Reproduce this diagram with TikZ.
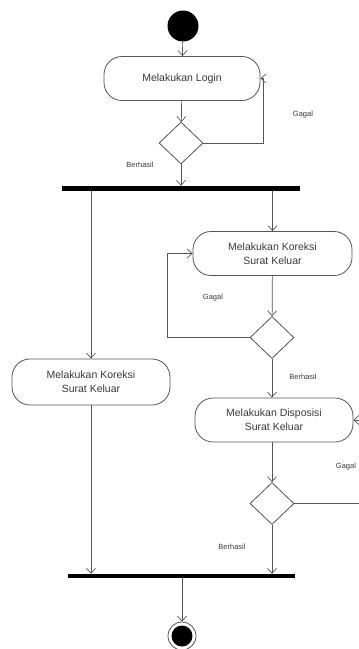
\documentclass[tikz,border=0pt]{standalone}
\usepackage{fontspec}
\setmainfont{Liberation Sans}
\usetikzlibrary{arrows.meta,shapes.geometric}
\definecolor{linegray}{HTML}{555555}
\definecolor{textgray}{HTML}{3A3A3A}
\tikzset{
  action/.style={draw=linegray, line width=0.8pt, rounded corners=18pt, fill=white,
    minimum height=44pt, align=center, font=\fontsize{10.5}{14}\selectfont, text=textgray, inner sep=0pt},
  decision/.style={draw=linegray, line width=0.8pt, diamond, fill=white, inner sep=0pt,
    minimum width=44pt, minimum height=42pt},
  syncbar/.style={fill=black, draw=none, inner sep=0pt},
  flow/.style={draw=linegray, line width=0.7pt, -{Straight Barb[length=5pt,width=9pt]}},
  guard/.style={font=\fontsize{7.5}{9}\selectfont, text=textgray}
}
\begin{document}
\begin{tikzpicture}[x=1pt,y=-1pt]
  \useasboundingbox (0,0) rectangle (359,649);
  \clip (0,0) rectangle (359,649);
  \fill[white] (0,0) rectangle (359,649);

  % initial state
  \node[circle, fill=black, minimum size=31pt, inner sep=0pt] (start) at (183,26) {};

  % login
  \node[action, minimum width=156pt] (login) at (182,78.5) {Melakukan Login};
  \node[decision] (d1) at (181,143) {};

  % fork
  \node[syncbar, minimum width=238pt, minimum height=5pt] (fork) at (181,188.5) {};

  % left branch
  \node[action, minimum width=158pt, minimum height=46pt] (kleft) at (91,382) {Melakukan Koreksi\\Surat Keluar};

  % right branch
  \node[action, minimum width=159pt] (kright) at (272.5,253.5) {Melakukan Koreksi\\Surat Keluar};
  \node[decision] (d2) at (272,337.5) {};
  \node[action, minimum width=158pt] (disp) at (274,420) {Melakukan Disposisi\\Surat Keluar};
  \node[decision] (d3) at (272,503.5) {};

  % join
  \node[syncbar, minimum width=227pt, minimum height=4pt] (join) at (181.5,576) {};

  % final state
  \node[circle, draw=linegray, line width=0.8pt, minimum size=28pt, inner sep=0pt] (final) at (182,636) {};
  \node[circle, fill=black, minimum size=21pt, inner sep=0pt] at (final) {};

  % loop-back bends
  \coordinate (l1) at (263,143);
  \coordinate (l2) at (167,337.5);
  \coordinate (l3) at (363,503.5);

  % connectors
  \draw[flow] (start) -- (login);
  \draw[flow] (login) -- (d1);
  \draw[flow] (d1.south) -- (d1.south |- fork.north);
  \draw[flow] (d1.east) -- (l1) |- (login.east);

  \draw[flow] (kleft.north |- fork.south) -- (kleft.north);
  \draw[flow] (kleft.south) -- (kleft.south |- join.north);

  \draw[flow] (kright.north |- fork.south) -- (kright.north);
  \draw[flow] (kright) -- (d2);
  \draw[flow] (d2.west) -- (l2) |- (kright.west);
  \draw[flow] (d2.south) -- (d2.south |- disp.north);
  \draw[flow] (disp.south -| d3) -- (d3.north);
  \draw[flow] (d3.east) -- (l3) |- (disp.east);
  \draw[flow] (d3.south) -- (d3.south |- join.north);

  \draw[flow] (join.south -| final) -- (final.north);

  % guards
  \node[guard] (g1) at (303,115) {Gagal};
  \node[guard] (b1) at (140,165) {Berhasil};
  \node[guard] (g2) at (213,298) {Gagal};
  \node[guard] (b2) at (303,377) {Berhasil};
  \node[guard] (g3) at (346,467) {Gagal};
  \node[guard] (b3) at (232,547) {Berhasil};
\end{tikzpicture}
\end{document}
